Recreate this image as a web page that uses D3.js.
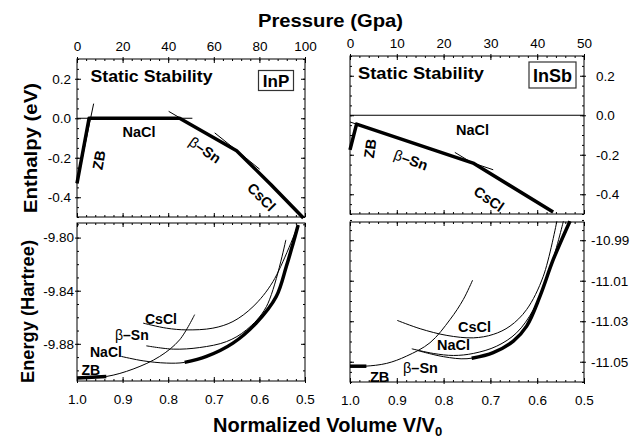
<!DOCTYPE html>
<html>
<head>
<meta charset="utf-8">
<script src="https://cdnjs.cloudflare.com/ajax/libs/d3/7.8.5/d3.min.js"></script>
<style>
  body { margin: 0; background: #fff; }
  text { font-family: "Liberation Sans", Arial, Helvetica, sans-serif; }
</style>
</head>
<body>
<svg id="chart"></svg>
<script>
// ---- tick labels
var inpPressureTicks = [0, 20, 40, 60, 80, 100];
var insbPressureTicks = [0, 10, 20, 30, 40, 50];
var enthalpyTicks = [0.2, 0.0, -0.2, -0.4];
var volumeTicks = [1.0, 0.9, 0.8, 0.7, 0.6, 0.5];
var inpEnergyTicks = [-9.80, -9.84, -9.88];
var insbEnergyTicks = [-10.99, -11.01, -11.03, -11.05];

// ---- InP enthalpy (eV, relative to NaCl) vs pressure (GPa)
var inpH_ZB = [[0, -0.33], [7.3, 0.074]];
var inpH_NaCl = [[0, 0], [50.6, 0]];
var inpH_BSn = [[40.2, 0.035], [70, -0.165]];
var inpH_CsCl = [[60.4, -0.074], [70, -0.163], [80.1, -0.258]];
var inpH_stable = [[0, -0.33], [5.3, 0], [45, 0], [70, -0.165], [85, -0.335], [99.3, -0.505]];

// ---- InSb enthalpy vs pressure
var insbH_NaCl = [[0, 0], [50, 0]];
var insbH_BSn = [[0, -0.034], [30.6, -0.276]];
var insbH_CsCl = [[22.4, -0.188], [43.4, -0.49]];
var insbH_stable = [[0, -0.175], [1.4, -0.045], [26.3, -0.242], [43.4, -0.49]];

// ---- InP energy (Hartree) vs normalized volume
var inpE_ZB = [[1.0, -9.9058], [0.9357, -9.9046], [0.877, -9.899], [0.8186, -9.8895], [0.775, -9.877], [0.742, -9.858]];
var inpE_NaCl = [[0.9027, -9.8895], [0.855, -9.8928], [0.804, -9.8945], [0.764, -9.894], [0.716, -9.8895], [0.658, -9.8795], [0.607, -9.8644], [0.563, -9.8444], [0.541, -9.8218], [0.526, -9.8042], [0.515, -9.7905]];
var inpE_BSn = [[0.848, -9.8815], [0.789, -9.884], [0.731, -9.8828], [0.672, -9.8783], [0.6285, -9.8695], [0.5847, -9.852], [0.542, -9.8017]];
var inpE_CsCl = [[0.855, -9.8644], [0.804, -9.8682], [0.760, -9.8695], [0.702, -9.8682], [0.658, -9.8632], [0.614, -9.852], [0.570, -9.833], [0.515, -9.7905]];
var inpE_ZBthick = [[1.0, -9.9058], [0.9357, -9.9046]];
var inpE_NaClthick = [[0.764, -9.894], [0.716, -9.8895], [0.658, -9.8795], [0.607, -9.8644], [0.563, -9.8444], [0.541, -9.8218], [0.526, -9.8042], [0.515, -9.7905]];

// ---- InSb energy vs normalized volume
var insbE_ZB = [[1.0, -11.0522], [0.968, -11.0522], [0.9216, -11.0508], [0.879, -11.0472], [0.829, -11.0406], [0.786, -11.0291], [0.758, -11.0193], [0.738, -11.0097]];
var insbE_CsCl = [[0.899, -11.0296], [0.85, -11.0337], [0.793, -11.037], [0.7365, -11.0382], [0.694, -11.0365], [0.658, -11.0324], [0.6225, -11.0242], [0.587, -11.0078], [0.558, -10.9806]];
var insbE_NaCl = [[0.868, -11.0436], [0.822, -11.0459], [0.779, -11.0469], [0.7365, -11.0459], [0.6865, -11.0423], [0.644, -11.0357], [0.608, -11.0242], [0.573, -11.0045], [0.544, -10.9806]];
var insbE_BSn = [[0.855, -11.0445], [0.80, -11.0475], [0.75, -11.0485], [0.694, -11.0455], [0.651, -11.0398], [0.6225, -11.0324], [0.594, -11.0176], [0.5656, -10.9995], [0.53, -10.9806]];
var insbE_ZBthick = [[1.0, -11.0522], [0.965, -11.0522]];
var insbE_BSnthick = [[0.74, -11.0483], [0.694, -11.0455], [0.651, -11.0398], [0.6225, -11.0324], [0.594, -11.0176], [0.5656, -10.9995], [0.53, -10.9806]];

var svg = d3.select("#chart").attr("width", 642).attr("height", 437);

// scales
var xP1 = d3.scaleLinear().domain([0, 100]).range([77, 305]);
var xP2 = d3.scaleLinear().domain([0, 50]).range([350, 584]);
var yH1 = d3.scaleLinear().domain([-0.5, 0.3]).range([217, 59]);
var yH2 = d3.scaleLinear().domain([-0.5, 0.3]).range([214, 56]);
var xV1 = d3.scaleLinear().domain([1.0, 0.5]).range([77, 305]);
var xV2 = d3.scaleLinear().domain([1.0, 0.5]).range([350, 584]);
var yE1 = d3.scaleLinear().domain([-9.908, -9.789]).range([381, 223]);
var yE2 = d3.scaleLinear().domain([-11.06, -10.981]).range([382, 222]);

function noLabel() { return ""; }

function axisPart(g, fn, scale, pos, vals, size, fmt, pad) {
  var ax = fn(scale).tickValues(vals).tickSizeInner(size).tickSizeOuter(0)
    .tickPadding(pad || 0).tickFormat(fmt || noLabel);
  var horiz = (fn === d3.axisTop || fn === d3.axisBottom);
  var a = g.append("g")
    .attr("transform", horiz ? "translate(0," + pos + ")" : "translate(" + pos + ",0)")
    .call(ax);
  a.select(".domain").remove();
  a.attr("font-family", null).attr("font-size", 13.5);
  a.selectAll("line").attr("stroke-width", 1);
  return a;
}

// frame with ticks on all sides; o.xLab = "top"/"bottom", o.yLab = "left"/"right"
function panel(xs, ys, o) {
  var g = svg.append("g");
  var x0 = xs.range()[0], x1 = xs.range()[1], yT = ys.range()[1], yB = ys.range()[0];
  g.append("rect").attr("x", x0).attr("y", yT).attr("width", x1 - x0).attr("height", yB - yT)
    .attr("fill", "none").attr("stroke", "#000").attr("stroke-width", 1);
  var sides = [
    [d3.axisTop, xs, yT, "top", o.xMajor, o.xMinor, o.xFmt, o.xPad],
    [d3.axisBottom, xs, yB, "bottom", o.xMajor, o.xMinor, o.xFmt, o.xPad],
    [d3.axisLeft, ys, x0, "left", o.yMajor, o.yMinor, o.yFmt, o.yPad],
    [d3.axisRight, ys, x1, "right", o.yMajor, o.yMinor, o.yFmt, o.yPad]
  ];
  sides.forEach(function (s) {
    var labelled = (s[3] === o.xLab || s[3] === o.yLab);
    axisPart(g, s[0], s[1], s[2], s[5], -2);
    axisPart(g, s[0], s[1], s[2], s[4], -4, labelled ? s[6] : null, labelled ? s[7] : 0);
    if (labelled) axisPart(g, s[0], s[1], s[2], s[4], 2);
  });
  return g;
}

function curve(g, xs, ys, data, w, smooth) {
  g.append("path").datum(data)
    .attr("fill", "none").attr("stroke", "#000").attr("stroke-width", w)
    .attr("stroke-linejoin", "round")
    .attr("d", d3.line().x(function (d) { return xs(d[0]); }).y(function (d) { return ys(d[1]); })
      .curve(smooth ? d3.curveCatmullRom.alpha(0.5) : d3.curveLinear));
}

function label(x, y, txt, size, rot, anchor) {
  var t = svg.append("text").attr("font-weight", "bold").attr("font-size", size)
    .attr("text-anchor", anchor || "middle")
    .attr("transform", "translate(" + x + "," + y + ") rotate(" + (rot || 0) + ")");
  if (txt === "β–Sn") {
    t.append("tspan").attr("font-weight", "normal").text("β");
    t.append("tspan").text("–Sn");
  } else {
    t.text(txt);
  }
  return t;
}

var f1 = function (d) { return d.toFixed(1); };
var f2 = function (d) { return d.toFixed(2); };

// ---- top-left: InP enthalpy
var g1 = panel(xP1, yH1, {
  xMajor: inpPressureTicks, xMinor: d3.range(0, 101, 4), xFmt: d3.format("d"), xPad: 8, xLab: "top",
  yMajor: enthalpyTicks, yMinor: d3.range(-0.5, 0.31, 0.05), yFmt: f1, yPad: 6, yLab: "left"
});
curve(g1, xP1, yH1, inpH_NaCl, 1);
curve(g1, xP1, yH1, inpH_ZB, 1);
curve(g1, xP1, yH1, inpH_BSn, 1);
curve(g1, xP1, yH1, inpH_CsCl, 1);
curve(g1, xP1, yH1, inpH_stable, 3.5);

// ---- top-right: InSb enthalpy
var g2 = panel(xP2, yH2, {
  xMajor: insbPressureTicks, xMinor: d3.range(0, 51, 2), xFmt: d3.format("d"), xPad: 8, xLab: "top",
  yMajor: enthalpyTicks, yMinor: d3.range(-0.5, 0.31, 0.05), yFmt: f1, yPad: 12, yLab: "right"
});
curve(g2, xP2, yH2, insbH_NaCl, 1.2);
curve(g2, xP2, yH2, insbH_BSn, 1);
curve(g2, xP2, yH2, insbH_CsCl, 1);
curve(g2, xP2, yH2, insbH_stable, 3.5);

// ---- bottom-left: InP energy
var g3 = panel(xV1, yE1, {
  xMajor: volumeTicks, xMinor: d3.range(50, 101, 2).map(function (d) { return d / 100; }), xFmt: f1, xPad: 13, xLab: "bottom",
  yMajor: inpEnergyTicks, yMinor: d3.range(-9.90, -9.785, 0.01), yFmt: f2, yPad: 3, yLab: "left"
});
curve(g3, xV1, yE1, inpE_ZB, 1, true);
curve(g3, xV1, yE1, inpE_NaCl, 1, true);
curve(g3, xV1, yE1, inpE_BSn, 1, true);
curve(g3, xV1, yE1, inpE_CsCl, 1, true);
curve(g3, xV1, yE1, inpE_ZBthick, 3.5, true);
curve(g3, xV1, yE1, inpE_NaClthick, 3.5, true);

// ---- bottom-right: InSb energy
var g4 = panel(xV2, yE2, {
  xMajor: volumeTicks, xMinor: d3.range(50, 101, 2).map(function (d) { return d / 100; }), xFmt: f1, xPad: 13, xLab: "bottom",
  yMajor: insbEnergyTicks, yMinor: d3.range(-11.06, -10.98, 0.005), yFmt: f2, yPad: 7, yLab: "right"
});
curve(g4, xV2, yE2, insbE_ZB, 1, true);
curve(g4, xV2, yE2, insbE_CsCl, 1, true);
curve(g4, xV2, yE2, insbE_NaCl, 1, true);
curve(g4, xV2, yE2, insbE_BSn, 1, true);
curve(g4, xV2, yE2, insbE_ZBthick, 3.5, true);
curve(g4, xV2, yE2, insbE_BSnthick, 3.5, true);

// ---- panel texts
label(90.5, 81.5, "Static Stability", 17, 0, "start").attr("textLength", 122).attr("lengthAdjust", "spacingAndGlyphs");
label(358, 78.5, "Static Stability", 17, 0, "start").attr("textLength", 126).attr("lengthAdjust", "spacingAndGlyphs");
svg.append("rect").attr("x", 258.5).attr("y", 70.5).attr("width", 35).attr("height", 20)
  .attr("fill", "none").attr("stroke", "#333").attr("stroke-width", 1.2);
label(276, 86.5, "InP", 17, 0);
svg.append("rect").attr("x", 529).attr("y", 62).attr("width", 47).attr("height", 26)
  .attr("fill", "none").attr("stroke", "#333").attr("stroke-width", 1.2);
label(552.5, 81.5, "InSb", 18, 0);

label(139, 137, "NaCl", 14.5, 0);
label(99, 160, "ZB", 14.5, -80).attr("dy", "0.35em");
label(205, 150, "β–Sn", 14.5, 35).attr("dy", "0.35em");
label(261.5, 197, "CsCl", 14.5, 45).attr("dy", "0.35em");

label(472.5, 135, "NaCl", 14.5, 0);
label(370, 148.5, "ZB", 14.5, -82).attr("dy", "0.35em");
label(411, 160, "β–Sn", 14.5, 20).attr("dy", "0.35em");
label(489, 199, "CsCl", 14.5, 35).attr("dy", "0.35em");

label(145, 323.5, "CsCl", 14, 0, "start");
label(115, 340, "β–Sn", 14, 0, "start");
label(90, 356.5, "NaCl", 14, 0, "start");
label(81.5, 375, "ZB", 14, 0, "start");

label(458, 331.5, "CsCl", 14.5, 0, "start");
label(437, 350, "NaCl", 14.5, 0, "start");
label(403, 373, "β–Sn", 14.5, 0, "start");
label(370, 381.5, "ZB", 14.5, 0, "start");

// ---- axis titles
label(330.5, 26.5, "Pressure (Gpa)", 19, 0).attr("textLength", 145).attr("lengthAdjust", "spacingAndGlyphs");
label(37, 148, "Enthalpy (eV)", 19, -90).attr("textLength", 130).attr("lengthAdjust", "spacingAndGlyphs");
label(33.5, 311.5, "Energy (Hartree)", 19, -90).attr("textLength", 143).attr("lengthAdjust", "spacingAndGlyphs");
var xt = label(213, 431.5, "Normalized Volume V/V", 20, 0, "start");
xt.append("tspan").attr("font-size", 13).attr("dy", 4).text("0");
</script>
</body>
</html>
